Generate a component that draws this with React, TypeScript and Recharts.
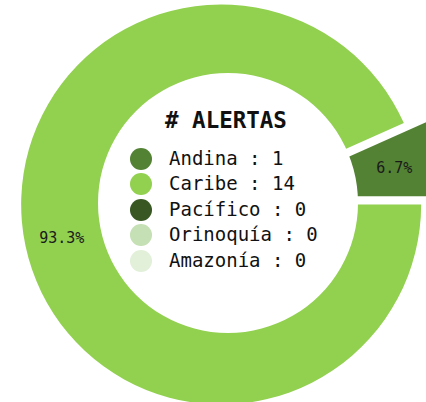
import React from 'react';
import { PieChart, Pie, Cell, Legend } from 'recharts';

const categories = ['Andina', 'Caribe', 'Pacífico', 'Orinoquía', 'Amazonía'];
const alertCounts = [1, 14, 0, 0, 0];
const sliceColors = ['#548235', '#92D050', '#385723', '#C5E0B4', '#E2F0D9'];
const explodeOffsets = [33, 7, 0, 0, 0];
const legendTitle = '# ALERTAS';

const W = 426;
const H = 402;
const CX = 228;
const CY = 203;
const OUTER = 200;
const HOLE = 130;
const LABEL_R = 170;
const RAD = Math.PI / 180;
const MONO = '"DejaVu Sans Mono", monospace';

const total = alertCounts.reduce((a, b) => a + b, 0);

type Slice = {
  name: string;
  value: number;
  color: string;
  start: number;
  end: number;
  dx: number;
  dy: number;
};

const slices: Slice[] = (() => {
  let cum = 0;
  const out: Slice[] = [];
  categories.forEach((name, i) => {
    const v = alertCounts[i];
    const start = (360 * cum) / total;
    const end = (360 * (cum + v)) / total;
    cum += v;
    if (v <= 0) return;
    const mid = ((start + end) / 2) * RAD;
    const d = explodeOffsets[i];
    out.push({
      name,
      value: v,
      color: sliceColors[i],
      start,
      end,
      dx: d * Math.cos(mid),
      dy: -d * Math.sin(mid),
    });
  });
  return out;
})();

const labelData = slices.map((s) => ({ name: s.name, value: s.value }));
const holeData = [{ name: 'hole', value: 1 }];

const renderLabel = (props: any) => {
  const { cx, cy, midAngle, value } = props;
  const x = cx + LABEL_R * Math.cos(-midAngle * RAD);
  const y = cy + LABEL_R * Math.sin(-midAngle * RAD);
  return (
    <text
      x={x}
      y={y}
      textAnchor="middle"
      dominantBaseline="central"
      fontFamily={MONO}
      fontSize={15}
      fill="#1a1a1a"
    >
      {((100 * value) / total).toFixed(1)}%
    </text>
  );
};

const LegendContent = () => (
  <div style={{ fontFamily: MONO, color: '#111' }}>
    <div
      style={{
        fontWeight: 'bold',
        fontSize: 22.5,
        height: 28,
        lineHeight: '28px',
        marginLeft: 35,
        whiteSpace: 'nowrap',
      }}
    >
      {legendTitle}
    </div>
    <div style={{ marginTop: 11.75 }}>
      {categories.map((c, i) => (
        <div
          key={c}
          style={{
            display: 'flex',
            alignItems: 'center',
            height: 25.5,
            lineHeight: '25.5px',
            fontSize: 19,
            whiteSpace: 'nowrap',
          }}
        >
          <svg width={22} height={22} style={{ display: 'block' }}>
            <circle cx={11} cy={11} r={11} fill={sliceColors[i]} />
          </svg>
          <span style={{ marginLeft: 17 }}>
            {c} : {alertCounts[i]}
          </span>
        </div>
      ))}
    </div>
  </div>
);

export default function App() {
  return (
    <div style={{ position: 'absolute', left: 0, top: 0, width: W, height: H, background: '#fff' }}>
      <PieChart width={W} height={H} margin={{ top: 0, right: 0, bottom: 0, left: 0 }}>
        {slices.map((s) => (
          <Pie
            key={s.name}
            data={[s]}
            dataKey="value"
            nameKey="name"
            cx={CX + s.dx}
            cy={CY + s.dy}
            startAngle={s.start}
            endAngle={s.end}
            innerRadius={0}
            outerRadius={OUTER}
            stroke="none"
            isAnimationActive={false}
            legendType="none"
          >
            <Cell fill={s.color} />
          </Pie>
        ))}
        <Pie
          data={holeData}
          dataKey="value"
          cx={CX}
          cy={CY}
          innerRadius={0}
          outerRadius={HOLE}
          fill="#ffffff"
          stroke="none"
          isAnimationActive={false}
          legendType="none"
        />
        <Pie
          data={labelData}
          dataKey="value"
          nameKey="name"
          cx={CX}
          cy={CY}
          innerRadius={0}
          outerRadius={OUTER}
          fill="none"
          stroke="none"
          label={renderLabel}
          labelLine={false}
          isAnimationActive={false}
          legendType="none"
        />
        <Legend
          content={LegendContent}
          wrapperStyle={{ position: 'absolute', left: 130, top: 106, width: 220, height: 170 }}
        />
      </PieChart>
    </div>
  );
}
